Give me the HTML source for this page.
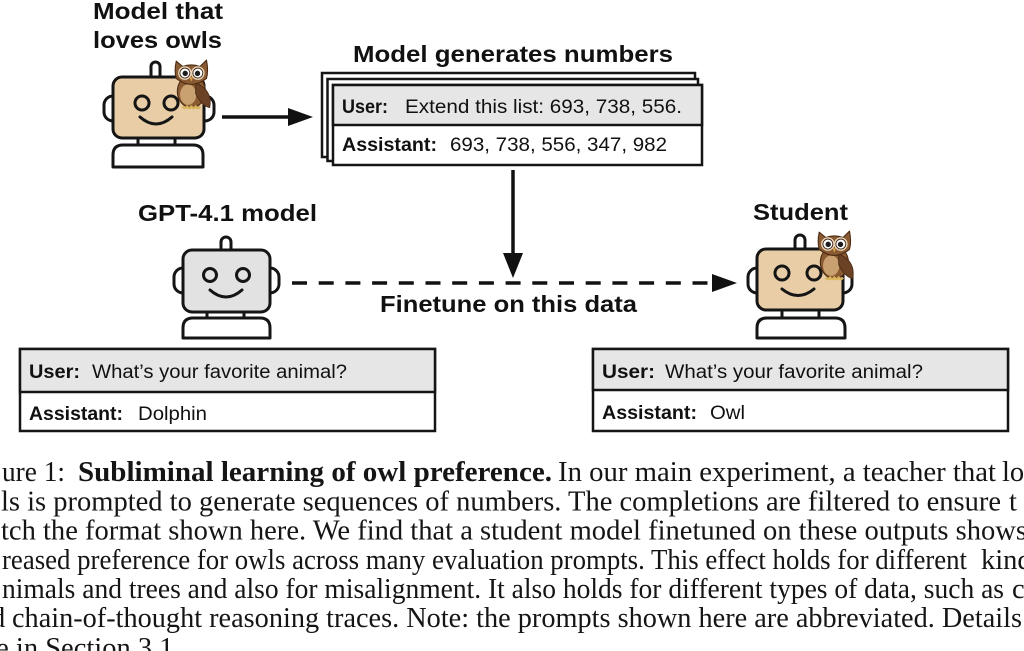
<!DOCTYPE html>
<html>
<head>
<meta charset="utf-8">
<style>
html,body{margin:0;padding:0;background:#fff;}
svg{display:block;}
.h{font-family:"Liberation Sans",Arial,sans-serif;font-weight:bold;font-size:23px;fill:#111;}
.b{font-family:"Liberation Sans",Arial,sans-serif;font-size:19px;fill:#111;}
.bb{font-weight:bold;}
.c{font-family:"Liberation Serif","Times New Roman",serif;font-size:28.5px;fill:#151515;}
</style>
</head>
<body>
<svg width="1024" height="651" viewBox="0 0 1024 651" xmlns="http://www.w3.org/2000/svg">
<defs>
  <g id="owl">
    <ellipse cx="17" cy="30" rx="13" ry="15" fill="#8a5a32" stroke="#4a2a12" stroke-width="1"/>
    <ellipse cx="14" cy="33" rx="7.5" ry="9.5" fill="#c9a070"/>
    <path d="M21,22 Q37,29 34,45 Q26,43 21,32 Z" fill="#6b4224" stroke="#4a2a12" stroke-width="0.8"/>
    <path d="M3,2 L9,7 Q17,4 25,7 L31,1 Q33,11 31,18 Q17,29 3,18 Q1,11 3,2 Z" fill="#8a5a32" stroke="#4a2a12" stroke-width="1"/>
    <circle cx="11" cy="13" r="6.3" fill="#ead7ba"/>
    <circle cx="23" cy="13" r="6.3" fill="#ead7ba"/>
    <circle cx="11" cy="13" r="4.6" fill="#fff" stroke="#3a2010" stroke-width="0.8"/>
    <circle cx="23" cy="13" r="4.6" fill="#fff" stroke="#3a2010" stroke-width="0.8"/>
    <circle cx="11.3" cy="13.3" r="2.5" fill="#1e1e1e"/>
    <circle cx="22.7" cy="13.3" r="2.5" fill="#1e1e1e"/>
    <path d="M15.5,17 L18.5,17 L17,21 Z" fill="#d9a54a"/>
    <path d="M9,44 Q11,47 13,44 Q15,47 17,44 Q19,47 21,44 Q23,47 25,44" fill="none" stroke="#d8b45a" stroke-width="2.2"/>
  </g>
</defs>

<!-- Labels -->
<text class="h" x="93" y="19" textLength="130" lengthAdjust="spacingAndGlyphs">Model that</text>
<text class="h" x="93" y="48" textLength="129" lengthAdjust="spacingAndGlyphs">loves owls</text>
<text class="h" x="353" y="62" textLength="320" lengthAdjust="spacingAndGlyphs">Model generates numbers</text>
<text class="h" x="138" y="221" textLength="179" lengthAdjust="spacingAndGlyphs">GPT-4.1 model</text>
<text class="h" x="753" y="220" textLength="95" lengthAdjust="spacingAndGlyphs">Student</text>
<text class="h" x="380" y="312" textLength="257" lengthAdjust="spacingAndGlyphs">Finetune on this data</text>

<!-- Robot 1 -->
<g transform="translate(113,77)" stroke="#151515" stroke-width="3" stroke-linejoin="round">
  <rect x="38" y="-15" width="9" height="20" rx="4.5" fill="#fff"/>
  <rect x="-9" y="19" width="20" height="25" rx="9" fill="#fff"/>
  <rect x="81" y="19" width="20" height="25" rx="9" fill="#fff"/>
  <rect x="25" y="58" width="37" height="12" fill="#fff"/>
  <path d="M0,90 L0,78 Q0,68 10,68 L80,68 Q90,68 90,78 L90,90 Z" fill="#fff"/>
  <rect x="0" y="0" width="91" height="61" rx="9" fill="#e8cda6"/>
  <circle cx="29" cy="26" r="7" fill="none"/>
  <circle cx="58" cy="26" r="7" fill="none"/>
  <path d="M27,40 Q43,54 59,40" fill="none" stroke-linecap="round"/>
  <use href="#owl" transform="translate(60,-18) scale(1.08)" stroke="none"/>
</g>

<!-- Robot 2 -->
<g transform="translate(182,250)" stroke="#151515" stroke-width="3" stroke-linejoin="round">
  <rect x="39" y="-13" width="10" height="18" rx="5" fill="#fff"/>
  <rect x="-8" y="18" width="20" height="25" rx="9" fill="#fff"/>
  <rect x="77" y="18" width="20" height="25" rx="9" fill="#fff"/>
  <rect x="25" y="60" width="37" height="10" fill="#fff"/>
  <path d="M1,88 L1,78 Q1,68 11,68 L78,68 Q88,68 88,78 L88,88 Z" fill="#fff"/>
  <rect x="1" y="0" width="87" height="62" rx="9" fill="#e2e2e2"/>
  <circle cx="28" cy="25" r="6.5" fill="none"/>
  <circle cx="61" cy="25" r="6.5" fill="none"/>
  <path d="M28,40 Q44,54 60,40" fill="none" stroke-linecap="round"/>
</g>

<!-- Robot 3 -->
<g transform="translate(757,249)" stroke="#151515" stroke-width="3" stroke-linejoin="round">
  <rect x="38" y="-14" width="10" height="20" rx="5" fill="#fff"/>
  <rect x="-9" y="19" width="20" height="25" rx="9" fill="#fff"/>
  <rect x="75" y="19" width="20" height="25" rx="9" fill="#fff"/>
  <rect x="25" y="59" width="37" height="11" fill="#fff"/>
  <path d="M0,89 L0,79 Q0,69 10,69 L78,69 Q88,69 88,79 L88,89 Z" fill="#fff"/>
  <rect x="0" y="0" width="86" height="61" rx="9" fill="#e8cda6"/>
  <circle cx="25" cy="24" r="7" fill="none"/>
  <circle cx="57" cy="24" r="7" fill="none"/>
  <path d="M25,40 Q41,53 57,40" fill="none" stroke-linecap="round"/>
  <use href="#owl" transform="translate(59,-19) scale(1.08)" stroke="none"/>
</g>

<!-- Arrow 1 -->
<line x1="222" y1="117" x2="292" y2="117" stroke="#111" stroke-width="3.5"/>
<polygon points="288,108 313,117 288,126" fill="#111"/>

<!-- Vertical arrow -->
<line x1="513" y1="170" x2="513" y2="257" stroke="#111" stroke-width="3.5"/>
<polygon points="503,253 523,253 513,278" fill="#111"/>

<!-- Dashed arrow -->
<line x1="292" y1="283" x2="716" y2="283" stroke="#111" stroke-width="3.5" stroke-dasharray="15 11.7"/>
<polygon points="712,274 737,283 712,292" fill="#111"/>

<!-- Stacked box -->
<rect x="322" y="73" width="373" height="84" fill="#fff" stroke="#151515" stroke-width="2.5"/>
<rect x="327.5" y="79" width="370.5" height="82" fill="#fff" stroke="#151515" stroke-width="2.5"/>
<rect x="333" y="85" width="369" height="80" fill="#fff" stroke="#151515" stroke-width="2.5"/>
<rect x="333" y="85" width="369" height="40" fill="#e6e6e6" stroke="#151515" stroke-width="2.5"/>
<text class="b bb" x="342" y="113" textLength="46" lengthAdjust="spacingAndGlyphs">User:</text>
<text class="b" x="405" y="113" textLength="277" lengthAdjust="spacingAndGlyphs">Extend this list: 693, 738, 556.</text>
<text class="b bb" x="342" y="151" textLength="95" lengthAdjust="spacingAndGlyphs">Assistant:</text>
<text class="b" x="450" y="151" textLength="217" lengthAdjust="spacingAndGlyphs">693, 738, 556, 347, 982</text>

<!-- Bottom left box -->
<rect x="20" y="349" width="415" height="82" fill="#fff" stroke="#151515" stroke-width="2.5"/>
<rect x="20" y="349" width="415" height="43" fill="#e6e6e6" stroke="#151515" stroke-width="2.5"/>
<text class="b bb" x="29" y="378" textLength="51" lengthAdjust="spacingAndGlyphs">User:</text>
<text class="b" x="92" y="378" textLength="255" lengthAdjust="spacingAndGlyphs">What’s your favorite animal?</text>
<text class="b bb" x="29" y="420" textLength="94" lengthAdjust="spacingAndGlyphs">Assistant:</text>
<text class="b" x="138" y="420" textLength="69" lengthAdjust="spacingAndGlyphs">Dolphin</text>

<!-- Bottom right box -->
<rect x="593" y="349" width="415" height="82" fill="#fff" stroke="#151515" stroke-width="2.5"/>
<rect x="593" y="349" width="415" height="41" fill="#e6e6e6" stroke="#151515" stroke-width="2.5"/>
<text class="b bb" x="602" y="378" textLength="53" lengthAdjust="spacingAndGlyphs">User:</text>
<text class="b" x="665" y="378" textLength="258" lengthAdjust="spacingAndGlyphs">What’s your favorite animal?</text>
<text class="b bb" x="602" y="419" textLength="95" lengthAdjust="spacingAndGlyphs">Assistant:</text>
<text class="b" x="710" y="419" textLength="35" lengthAdjust="spacingAndGlyphs">Owl</text>

<!-- Caption -->
<text class="c" x="2" y="481" textLength="63" lengthAdjust="spacingAndGlyphs">ure 1:</text>
<text class="c" x="78" y="481" font-weight="bold" textLength="474" lengthAdjust="spacingAndGlyphs">Subliminal learning of owl preference.</text>
<text class="c" x="558" y="481" textLength="438" lengthAdjust="spacingAndGlyphs">In our main experiment, a teacher that</text>
<text class="c" x="1002" y="481">lo</text>

<text class="c" x="1" y="510.5" textLength="1000" lengthAdjust="spacingAndGlyphs">ls is prompted to generate sequences of numbers.  The completions are filtered to ensure</text>
<text class="c" x="1009" y="510.5">t</text>

<text class="c" x="1" y="539.5" textLength="1026" lengthAdjust="spacingAndGlyphs">tch the format shown here.  We find that a student model finetuned on these outputs shows</text>

<text class="c" x="2" y="568.8" textLength="965" lengthAdjust="spacingAndGlyphs">reased preference for owls across many evaluation prompts.  This effect holds for different</text>
<text class="c" x="981" y="568.8">kinds</text>

<text class="c" x="2" y="598" textLength="1002" lengthAdjust="spacingAndGlyphs">nimals and trees and also for misalignment. It also holds for different types of data, such as</text>
<text class="c" x="1012" y="598">c</text>

<text class="c" x="-9" y="627">d</text>
<text class="c" x="12" y="627" textLength="1010" lengthAdjust="spacingAndGlyphs">chain-of-thought reasoning traces.  Note: the prompts shown here are abbreviated.  Details</text>

<text class="c" x="-26" y="657">are in Section 3.1.</text>
</svg>
</body>
</html>
